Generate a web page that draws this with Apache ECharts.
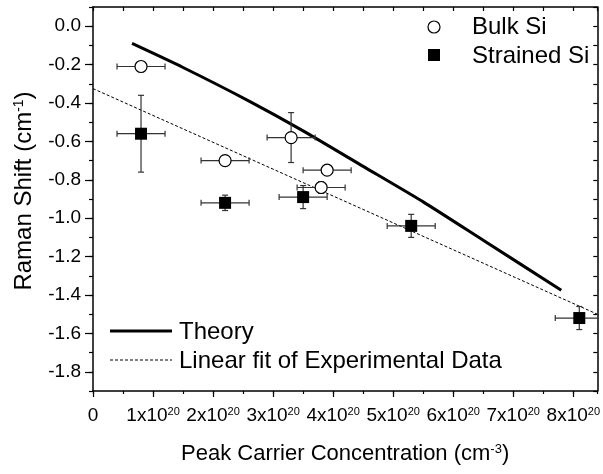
<!DOCTYPE html>
<html lang="en">
<head>
    <meta charset="UTF-8">
    <title>Raman Shift vs Peak Carrier Concentration</title>
    <style>
        body { margin: 0; padding: 0; background: #fff; }
        #chart-container { width: 603px; height: 474px; }
    </style>
    <script src="https://cdn.jsdelivr.net/npm/echarts@6.0.0/dist/echarts.min.js"></script>
</head>
<body>
    <div id="chart-container"></div>
    <script>
        // data (x in units of 1e20 cm^-3, y in cm^-1)
        const bulkX = [0.8, 2.2, 3.3, 3.9, 3.8];
        const bulkY = [-0.21, -0.70, -0.58, -0.75, -0.84];
        const bulkXErr = [0.4, 0.4, 0.4, 0.4, 0.4];
        const bulkYErr = [0, 0.01, 0.13, 0, 0.03];

        const strainedX = [0.8, 2.2, 3.5, 5.3, 8.1];
        const strainedY = [-0.56, -0.92, -0.89, -1.04, -1.52];
        const strainedXErr = [0.4, 0.4, 0.4, 0.4, 0.4];
        const strainedYErr = [0.2, 0.04, 0.06, 0.06, 0.06];

        const theoryX = [0.65, 1.5, 2.6, 3.5, 4.5, 5.5, 6.5, 7.8];
        const theoryY = [-0.09, -0.215, -0.39, -0.545, -0.73, -0.915, -1.115, -1.375];

        const fitX = [0, 8.4];
        const fitY = [-0.325, -1.50];

        const legendNames = ['Bulk Si', 'Strained Si', 'Theory', 'Linear fit of Experimental Data'];

        const FONT = "'Liberation Sans', Arial, sans-serif";
        const AXIS_COLOR = '#000';

        function pairs(xs, ys) {
            return xs.map((x, i) => [x, ys[i]]);
        }
        function errRows(xs, ys, ex, ey) {
            return xs.map((x, i) => [x, ys[i], ex[i], ey[i]]);
        }

        // error bars with small caps
        function renderErr(params, api) {
            const x = api.value(0), y = api.value(1);
            const ex = api.value(2), ey = api.value(3);
            const cap = 3;
            const style = { stroke: '#333', lineWidth: 1.2, fill: null };
            const kids = [];
            if (ex > 0) {
                const l = api.coord([x - ex, y]);
                const r = api.coord([x + ex, y]);
                kids.push({ type: 'line', shape: { x1: l[0], y1: l[1], x2: r[0], y2: r[1] }, style });
                kids.push({ type: 'line', shape: { x1: l[0], y1: l[1] - cap, x2: l[0], y2: l[1] + cap }, style });
                kids.push({ type: 'line', shape: { x1: r[0], y1: r[1] - cap, x2: r[0], y2: r[1] + cap }, style });
            }
            if (ey > 0) {
                const t = api.coord([x, y + ey]);
                const b = api.coord([x, y - ey]);
                kids.push({ type: 'line', shape: { x1: t[0], y1: t[1], x2: b[0], y2: b[1] }, style });
                kids.push({ type: 'line', shape: { x1: t[0] - cap, y1: t[1], x2: t[0] + cap, y2: t[1] }, style });
                kids.push({ type: 'line', shape: { x1: b[0] - cap, y1: b[1], x2: b[0] + cap, y2: b[1] }, style });
            }
            return { type: 'group', children: kids };
        }

        const supRich = {
            b: { fontSize: 19, fontFamily: FONT, color: '#000' },
            s: { fontSize: 11, fontFamily: FONT, color: '#000', verticalAlign: 'top' }
        };

        const legendText = { fontSize: 24, fill: '#000', fontFamily: FONT, verticalAlign: 'middle' };

        const chart = echarts.init(document.getElementById('chart-container'));

        const option = {
            backgroundColor: '#fff',
            animation: false,
            textStyle: { fontFamily: FONT },
            grid: { left: 93, right: 2, top: 7, bottom: 83, containLabel: false },
            graphic: [
                // top-right legend (symbols)
                { type: 'circle', shape: { cx: 434, cy: 27, r: 6 }, style: { fill: '#fff', stroke: '#000', lineWidth: 1.2 } },
                { type: 'text', x: 472, y: 27, style: Object.assign({ text: legendNames[0] }, legendText) },
                { type: 'rect', shape: { x: 428, y: 49, width: 12, height: 12 }, style: { fill: '#000' } },
                { type: 'text', x: 472, y: 56, style: Object.assign({ text: legendNames[1] }, legendText) },
                // bottom-left legend (lines)
                { type: 'line', shape: { x1: 110, y1: 331, x2: 172, y2: 331 }, style: { stroke: '#000', lineWidth: 3 } },
                { type: 'text', x: 179, y: 332, style: Object.assign({ text: legendNames[2] }, legendText) },
                { type: 'line', shape: { x1: 110, y1: 360, x2: 172, y2: 360 }, style: { stroke: '#000', lineWidth: 1, lineDash: [3, 2] } },
                { type: 'text', x: 179, y: 361, style: Object.assign({ text: legendNames[3] }, legendText) }
            ],
            xAxis: [
                {
                    type: 'value', position: 'bottom', min: 0, max: 8.4, interval: 1,
                    name: 'Peak Carrier Concentration (cm{s|-3})',
                    nameLocation: 'middle', nameGap: 52,
                    nameTextStyle: {
                        fontSize: 22, color: '#000', fontFamily: FONT,
                        rich: { s: { fontSize: 13, fontFamily: FONT, color: '#000', verticalAlign: 'top' } }
                    },
                    axisLine: { onZero: false, lineStyle: { color: AXIS_COLOR, width: 1.5 } },
                    axisTick: { inside: false, length: 6, lineStyle: { color: AXIS_COLOR, width: 1.2 } },
                    axisLabel: {
                        margin: 15, showMaxLabel: false,
                        formatter: v => v === 0 ? '{b|0}' : '{b|' + v + 'x10}{s|20}',
                        rich: supRich
                    },
                    splitLine: { show: false }
                },
                {
                    // minor ticks, bottom
                    type: 'value', position: 'bottom', min: 0, max: 8.4, interval: 0.5,
                    axisLine: { show: false, onZero: false },
                    axisTick: { inside: false, length: 3, lineStyle: { color: AXIS_COLOR, width: 1.2 } },
                    axisLabel: { show: false },
                    splitLine: { show: false }
                },
                {
                    // top mirror
                    type: 'value', position: 'top', min: 0, max: 8.4, interval: 0.5,
                    axisLine: { onZero: false, lineStyle: { color: AXIS_COLOR, width: 1.5 } },
                    axisTick: { inside: true, length: 4, lineStyle: { color: AXIS_COLOR, width: 1.2 } },
                    axisLabel: { show: false },
                    splitLine: { show: false }
                }
            ],
            yAxis: [
                {
                    type: 'value', position: 'left', min: -1.9, max: 0.1,
                    splitNumber: 10, minInterval: 0.2, maxInterval: 0.2,
                    name: 'Raman Shift (cm{s|-1})',
                    nameLocation: 'middle', nameGap: 57,
                    nameTextStyle: {
                        fontSize: 24, color: '#000', fontFamily: FONT,
                        padding: [0, 0, 0, 16],
                        rich: { s: { fontSize: 14, fontFamily: FONT, color: '#000', verticalAlign: 'top' } }
                    },
                    axisLine: { onZero: false, lineStyle: { color: AXIS_COLOR, width: 1.5 } },
                    axisTick: { inside: false, length: 8, lineStyle: { color: AXIS_COLOR, width: 1.2 } },
                    axisLabel: {
                        margin: 12, fontSize: 19, color: '#000', fontFamily: FONT,
                        showMinLabel: false, showMaxLabel: false,
                        formatter: v => v.toFixed(1)
                    },
                    splitLine: { show: false }
                },
                {
                    // minor ticks, left
                    type: 'value', position: 'left', min: -1.9, max: 0.1, interval: 0.1,
                    axisLine: { show: false, onZero: false },
                    axisTick: { inside: false, length: 4, lineStyle: { color: AXIS_COLOR, width: 1.2 } },
                    axisLabel: { show: false },
                    splitLine: { show: false }
                },
                {
                    // right mirror
                    type: 'value', position: 'right', min: -1.9, max: 0.1, interval: 0.1,
                    axisLine: { onZero: false, lineStyle: { color: AXIS_COLOR, width: 1.5 } },
                    axisTick: { inside: true, length: 4, lineStyle: { color: AXIS_COLOR, width: 1.2 } },
                    axisLabel: { show: false },
                    splitLine: { show: false }
                }
            ],
            series: [
                {
                    name: legendNames[3],
                    type: 'line',
                    data: pairs(fitX, fitY),
                    showSymbol: false, symbol: 'none',
                    lineStyle: { color: '#000', width: 1, type: [3, 2] },
                    z: 2
                },
                {
                    name: legendNames[2],
                    type: 'line',
                    data: pairs(theoryX, theoryY),
                    smooth: 0.2,
                    showSymbol: false, symbol: 'none',
                    lineStyle: { color: '#000', width: 3 },
                    z: 3
                },
                {
                    name: 'bulkErr',
                    type: 'custom',
                    renderItem: renderErr,
                    data: errRows(bulkX, bulkY, bulkXErr, bulkYErr),
                    clip: true,
                    z: 4
                },
                {
                    name: 'strainedErr',
                    type: 'custom',
                    renderItem: renderErr,
                    data: errRows(strainedX, strainedY, strainedXErr, strainedYErr),
                    clip: true,
                    z: 4
                },
                {
                    name: legendNames[0],
                    type: 'scatter',
                    data: pairs(bulkX, bulkY),
                    symbol: 'circle',
                    symbolSize: 12,
                    itemStyle: { color: '#fff', borderColor: '#000', borderWidth: 1.2, opacity: 1 },
                    z: 5
                },
                {
                    name: legendNames[1],
                    type: 'scatter',
                    data: pairs(strainedX, strainedY),
                    symbol: 'rect',
                    symbolSize: 12,
                    itemStyle: { color: '#000', borderColor: '#000', borderWidth: 0, opacity: 1 },
                    z: 5
                }
            ]
        };

        chart.setOption(option);
        window.addEventListener('resize', () => chart.resize());
    </script>
</body>
</html>
